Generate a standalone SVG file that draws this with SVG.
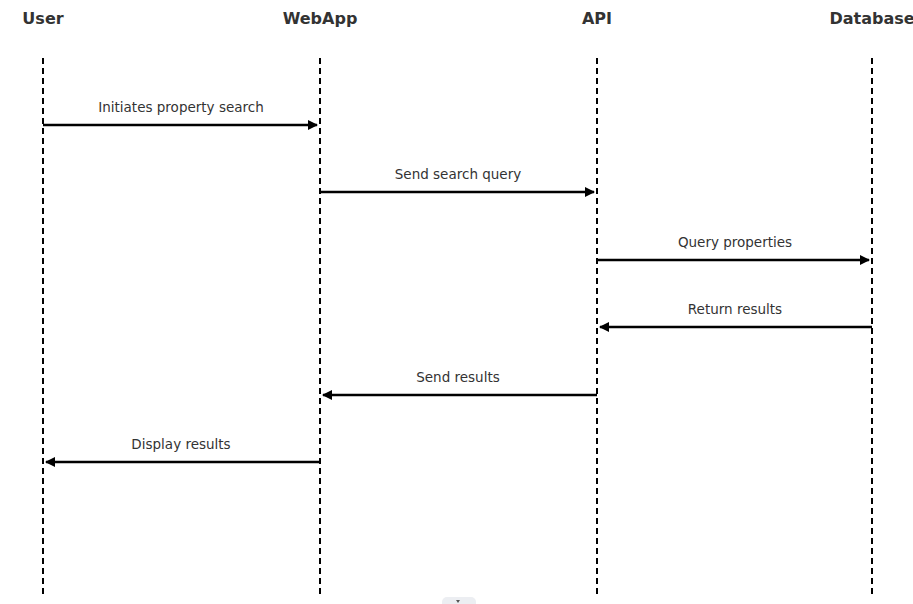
<svg xmlns="http://www.w3.org/2000/svg" width="913" height="604" viewBox="0 0 913 604">
<style>
.hdr{font-family:"DejaVu Sans",sans-serif;font-weight:bold;font-size:16px;fill:#333;text-anchor:middle}
.lbl{font-family:"DejaVu Sans",sans-serif;font-size:13.5px;fill:#333;text-anchor:middle}
.life{stroke:#000;stroke-width:2;stroke-dasharray:6,4;fill:none}
.msg{stroke:#000;stroke-width:2.5;fill:none;marker-end:url(#ah)}
</style>
<defs>
<marker id="ah" viewBox="0 0 10 10" refX="9" refY="5" markerWidth="4" markerHeight="4" orient="auto" markerUnits="strokeWidth">
<path d="M0,0 L10,5 L0,10 z" fill="#000"/>
</marker>
</defs>
<rect width="913" height="604" fill="#fff"/>
<g id="user"><text class="hdr" x="43" y="24">User</text><line class="life" x1="43" y1="58" x2="43" y2="598"/></g>
<g id="webapp"><text class="hdr" x="320" y="24">WebApp</text><line class="life" x1="320" y1="58" x2="320" y2="598"/></g>
<g id="api"><text class="hdr" x="597" y="24">API</text><line class="life" x1="597" y1="58" x2="597" y2="598"/></g>
<g id="database"><text class="hdr" x="872" y="24">Database</text><line class="life" x1="872" y1="58" x2="872" y2="598"/></g>
<g id="connectors">
<line class="msg" x1="43" y1="125" x2="317" y2="125"/>
<text class="lbl" x="181" y="112">Initiates property search</text>
<line class="msg" x1="320" y1="192" x2="594" y2="192"/>
<text class="lbl" x="458" y="179">Send search query</text>
<line class="msg" x1="597" y1="260" x2="869" y2="260"/>
<text class="lbl" x="735" y="247">Query properties</text>
<line class="msg" x1="872" y1="327" x2="600" y2="327"/>
<text class="lbl" x="735" y="314">Return results</text>
<line class="msg" x1="597" y1="395" x2="323" y2="395"/>
<text class="lbl" x="458" y="382">Send results</text>
<line class="msg" x1="320" y1="462" x2="46" y2="462"/>
<text class="lbl" x="181" y="449">Display results</text>
</g>
<rect x="442" y="597" width="34" height="12" rx="5" fill="#eceef2"/>
<path d="M456,600 L460,600 L458,603 z" fill="#555"/>
</svg>
